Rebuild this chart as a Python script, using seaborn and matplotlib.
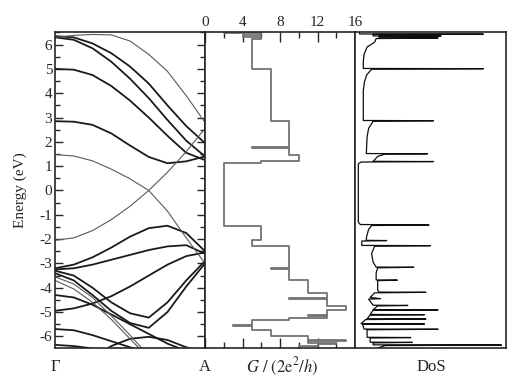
import numpy as np
import pandas as pd
import seaborn as sns
import matplotlib.pyplot as plt
from matplotlib.ticker import MultipleLocator

sns.set_theme(style="ticks")
plt.rcParams['font.family'] = ['Liberation Serif', 'DejaVu Serif']
plt.rcParams['mathtext.fontset'] = 'stix'

# --- band structure, energies (eV) at k = 0 (Gamma) ... 1 (A)
k_points = [0, 0.125, 0.25, 0.375, 0.5, 0.625, 0.75, 0.875, 1.0]
thick_bands = [
    [6.35, 6.30, 6.05, 5.65, 5.10, 4.40, 3.50, 2.65, 1.95],
    [6.30, 6.20, 5.85, 5.30, 4.60, 3.80, 2.90, 2.05, 1.40],
    [5.00, 4.97, 4.75, 4.30, 3.70, 3.00, 2.25, 1.55, 1.25],
    [2.85, 2.83, 2.70, 2.35, 1.85, 1.38, 1.12, 1.20, 1.40],
    [-3.20, -3.05, -2.75, -2.35, -1.90, -1.55, -1.45, -1.75, -2.50],
    [-3.25, -3.20, -3.05, -2.85, -2.65, -2.45, -2.30, -2.25, -2.60],
    [-4.95, -4.85, -4.65, -4.35, -3.95, -3.50, -3.05, -2.70, -2.55],
    [-3.30, -3.50, -4.00, -4.60, -5.05, -5.23, -4.60, -3.70, -2.90],
    [-3.40, -3.70, -4.30, -4.95, -5.45, -5.65, -5.00, -3.95, -3.00],
    [-4.30, -4.40, -4.70, -5.10, -5.50, -5.90, -6.30, -6.60, -6.90],
    [-5.70, -5.75, -5.95, -6.20, -6.45, -6.70, -6.95, -7.20, -7.45],
    [-7.20, -7.00, -6.90, -6.40, -6.10, -6.02, -6.15, -6.45, -6.70],
    [-6.35, -6.40, -6.50, -6.65, -6.80, -6.95, -7.10, -7.25, -7.40],
]
thin_bands = [
    [6.30, 6.38, 6.42, 6.40, 6.15, 5.60, 4.90, 3.90, 2.80],
    [1.48, 1.42, 1.22, 0.88, 0.48, 0.00, -0.85, -1.95, -3.00],
    [-2.05, -1.95, -1.65, -1.20, -0.65, 0.00, 0.75, 1.60, 2.55],
    [-3.55, -3.85, -4.40, -5.15, -5.95, -6.80, -7.60, -8.40, -9.20],
    [-3.70, -4.05, -4.60, -5.30, -6.10, -6.90, -7.70, -8.50, -9.30],
]

# --- conductance staircase: energy edges (top -> bottom) and G in units of 2e^2/h
g_edges = [6.52, 6.46, 6.40, 6.30, 6.22, 5.00, 2.86, 1.77, 1.73, 1.45, 1.36,
           1.20, 1.13, -1.46, -2.05, -2.28, -3.18, -3.22, -3.70, -4.20, -4.44,
           -4.48, -4.75, -4.93, -5.12, -5.15, -5.25, -5.33, -5.52, -5.56,
           -5.72, -6.00, -6.14, -6.18, -6.28, -6.32, -6.40, -6.48]
g_levels = [2, 6, 4, 6, 5, 7, 9, 5, 9, 10, 10, 6, 2, 6, 5, 9, 7, 9, 11, 13,
            9, 13, 15, 13, 11, 13, 9, 5, 3, 5, 7, 11, 15, 11, 14, 12, 10]

# --- density of states (arb. units)
dos_energy = [6.52, 6.44, 6.43, 6.42, 6.36, 6.35, 6.34, 6.28, 6.27, 6.25, 6.10,
              5.90, 5.60, 5.30, 5.02, 5.01, 4.99, 4.75, 4.45, 4.10, 2.88, 2.87,
              2.85, 2.55, 2.20, 1.52, 1.51, 1.50, 1.40, 1.20, 1.19, 1.17, 1.10,
              -1.30, -1.40, -1.42, -1.44, -1.60, -1.95, -2.05, -2.06, -2.08,
              -2.26, -2.27, -2.29, -2.60, -2.95, -3.15, -3.16, -3.18, -3.40,
              -3.68, -3.69, -3.71, -4.10, -4.18, -4.19, -4.21, -4.40, -4.45,
              -4.47, -4.72, -4.73, -4.75, -4.90, -4.91, -4.93, -5.10, -5.11,
              -5.13, -5.28, -5.29, -5.31, -5.48, -5.49, -5.51, -5.70, -5.71,
              -5.73, -6.04, -6.05, -6.07, -6.24, -6.25, -6.27, -6.35, -6.36,
              -6.38, -6.48]
dos_value = [0.03, 0.03, 0.85, 0.12, 0.12, 0.57, 0.16, 0.16, 0.55, 0.14, 0.13,
             0.08, 0.06, 0.055, 0.055, 0.85, 0.11, 0.077, 0.062, 0.055, 0.055,
             0.52, 0.12, 0.09, 0.08, 0.075, 0.48, 0.20, 0.15, 0.12, 0.52, 0.04,
             0.022, 0.022, 0.035, 0.49, 0.11, 0.09, 0.075, 0.075, 0.21, 0.045,
             0.045, 0.50, 0.13, 0.11, 0.12, 0.14, 0.39, 0.15, 0.14, 0.14, 0.28,
             0.15, 0.15, 0.16, 0.47, 0.13, 0.10, 0.17, 0.09, 0.12, 0.35, 0.15,
             0.12, 0.55, 0.12, 0.10, 0.46, 0.10, 0.08, 0.47, 0.07, 0.04, 0.46,
             0.05, 0.06, 0.55, 0.08, 0.08, 0.37, 0.10, 0.10, 0.38, 0.12, 0.12,
             0.97, 0.20, 0.15]

e_min, e_max = -6.48, 6.52

fig = plt.figure(figsize=(5.21, 3.86), dpi=100)
W, H = 521, 386
bottom, height = 38 / H, 316 / H
ax1 = fig.add_axes([55 / W, bottom, 150 / W, height])
ax2 = fig.add_axes([205 / W, bottom, 150 / W, height])
ax3 = fig.add_axes([355 / W, bottom, 151 / W, height])

for band in thick_bands:
    sns.lineplot(x=k_points, y=band, ax=ax1, sort=False, estimator=None,
                 color='0.1', lw=1.3)
for band in thin_bands:
    sns.lineplot(x=k_points, y=band, ax=ax1, sort=False, estimator=None,
                 color='0.35', lw=0.8)

# staircase path built from edges and levels
g_e = np.repeat(g_edges, 2)[1:-1]
g_x = np.repeat(g_levels, 2)
steps = pd.DataFrame({'G': g_x, 'E': g_e})
sns.lineplot(data=steps, x='G', y='E', ax=ax2, sort=False, estimator=None,
             color='0.45', lw=1.3)

dos = pd.DataFrame({'E': dos_energy, 'D': dos_value})
sns.lineplot(data=dos, x='D', y='E', ax=ax3, sort=False, estimator=None,
             color='0.05', lw=0.9)

for ax in (ax1, ax2, ax3):
    ax.set_ylim(e_min, e_max)
    ax.set_xlabel('')
    ax.set_ylabel('')
    for s in ax.spines.values():
        s.set_linewidth(1.2)
        s.set_color('0.15')

ax1.set_xlim(0, 1)
ax1.set_xticks([])
ax1.yaxis.set_major_locator(MultipleLocator(1))
ax1.yaxis.set_minor_locator(MultipleLocator(0.5))
ax1.tick_params(axis='y', which='both', direction='in', left=True, right=True,
                labelsize=11, pad=2, colors='0.15')
ax1.tick_params(axis='y', which='major', length=6, width=1)
ax1.tick_params(axis='y', which='minor', length=3.5, width=1)
ax1.set_yticks(range(-6, 7))
ax1.set_yticklabels([str(v) for v in range(-6, 7)])

ax2.set_xlim(0, 16)
ax2.set_yticks([])
ax2.xaxis.set_major_locator(MultipleLocator(4))
ax2.xaxis.set_minor_locator(MultipleLocator(2))
ax2.tick_params(axis='x', which='both', direction='in', top=True, bottom=True,
                labeltop=True, labelbottom=False, labelsize=11, pad=2,
                colors='0.15')
ax2.tick_params(axis='x', which='major', length=7, width=1)
ax2.tick_params(axis='x', which='minor', length=4, width=1)

ax3.set_xlim(0, 1)
ax3.set_xticks([])
ax3.set_yticks([])

fig.text(20 / W, 1 - 190 / H, 'Energy (eV)', rotation=90, ha='center',
         va='center', fontsize=11)
fig.text(55 / W, 1 - 367 / H, 'Γ', ha='center', va='center', fontsize=12)
fig.text(205 / W, 1 - 367 / H, 'A', ha='center', va='center', fontsize=12)
fig.text(282 / W, 1 - 367 / H, r'$G\ /\ (2\mathrm{e}^2/h)$', ha='center',
         va='center', fontsize=12)
fig.text(431 / W, 1 - 367 / H, 'DoS', ha='center', va='center', fontsize=12)

plt.savefig('out.png', dpi=100)
